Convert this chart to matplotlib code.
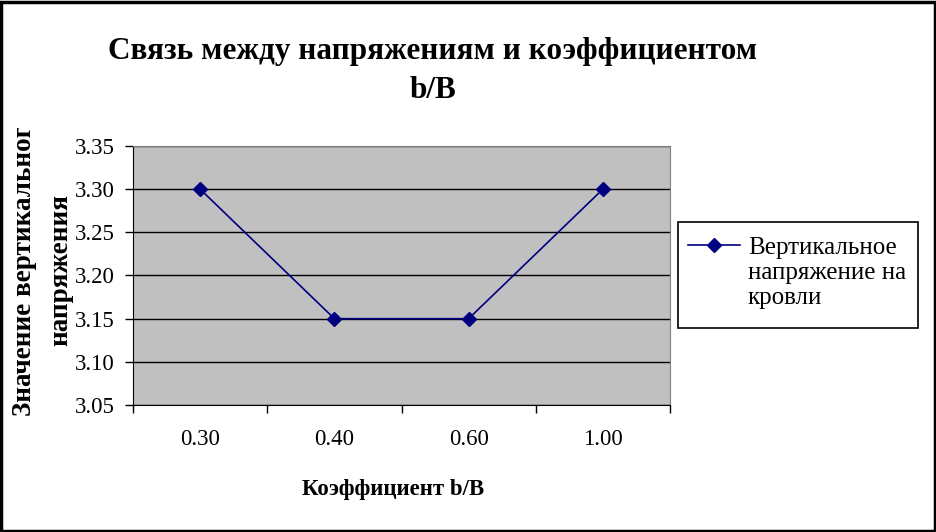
import matplotlib
matplotlib.use("Agg")
import matplotlib.pyplot as plt
from matplotlib.patches import Rectangle
from matplotlib.transforms import Bbox

categories = ["0.30", "0.40", "0.60", "1.00"]
values = [3.30, 3.15, 3.15, 3.30]
yticks = [3.05, 3.10, 3.15, 3.20, 3.25, 3.30, 3.35]
series_name = "Вертикальное\nнапряжение на\nкровли"

plt.rcParams['font.family'] = ['Liberation Serif', 'DejaVu Serif']

W, H = 937, 532
fig = plt.figure(figsize=(W/100, H/100), dpi=100)
ax = fig.add_axes([133/W, 1-405/H, (670-133)/W, (405-146)/H])
ax.set_facecolor('#C0C0C0')

x = [i + 0.5 for i in range(len(categories))]
line, = ax.plot(x, values, color='#000080', marker='D', markersize=7, linewidth=1.2,
                markerfacecolor='#000080', markeredgecolor='#000080', zorder=3, clip_on=False)
ax.set_xlim(0, len(categories))
ax.set_ylim(3.05, 3.35)
ax.set_yticks(yticks)
ax.set_yticklabels([f"{v:.2f}" for v in yticks], fontsize=16.5)
ax.set_xticks(range(len(categories) + 1))
ax.set_xticklabels([])
for xi, lab in zip(x, categories):
    ax.text(xi, -0.135, lab, transform=ax.get_xaxis_transform(), ha='center', va='center', fontsize=16.5)
ax.yaxis.grid(True, color='black', linewidth=1)
ax.set_axisbelow(True)
ax.tick_params(axis='both', direction='out', length=6, width=1, color='black')
ax.tick_params(axis='y', pad=7)
for s in ['top', 'right']:
    ax.spines[s].set_color('#808080')
for s in ['left', 'bottom']:
    ax.spines[s].set_color('black')

fig.text(433/W, 1-52/H, "Связь между напряжениям и коэффициентом", ha='center', va='center',
         fontsize=22.5, fontweight='bold')
fig.text(433/W, 1-90/H, "b/B", ha='center', va='center', fontsize=22.5, fontweight='bold')

fig.text(393/W, 1-490/H, "Коэффициент b/B", ha='center', va='center', fontsize=16.5, fontweight='bold')

clipbox = Bbox.from_extents(0, 0, W, H - 128)
t1 = fig.text(25/W, 1-264/H, "Значение вертикального", rotation=90, ha='center', va='center',
              fontsize=19.5, fontweight='bold')
t1.set_clip_box(clipbox)
t1.set_clip_on(True)
fig.text(61/W, 1-270/H, "напряжения", rotation=90, ha='center', va='center',
         fontsize=19.5, fontweight='bold')

# legend
lx0, ly0, lx1, ly1 = 678, 222, 918, 328
fig.patches.append(Rectangle((lx0/W, 1-ly1/H), (lx1-lx0)/W, (ly1-ly0)/H, transform=fig.transFigure,
                             facecolor='white', edgecolor='black', linewidth=1.2))
fig.lines.append(plt.Line2D([688/W, 740/W], [1-245/H, 1-245/H], transform=fig.transFigure,
                            color='#000080', linewidth=1.2))
fig.lines.append(plt.Line2D([714/W], [1-245/H], transform=fig.transFigure,
                            color='#000080', marker='D', markersize=7))
fig.text(748/W, 1-273/H, series_name, ha='left', va='center', fontsize=18, linespacing=1.2)

# outer border
fig.patches.append(Rectangle((1/W, 1/H), (W-3)/W, (H-3)/H, transform=fig.transFigure,
                             facecolor='none', edgecolor='black', linewidth=2.5))

fig.savefig("out.png", dpi=100)
